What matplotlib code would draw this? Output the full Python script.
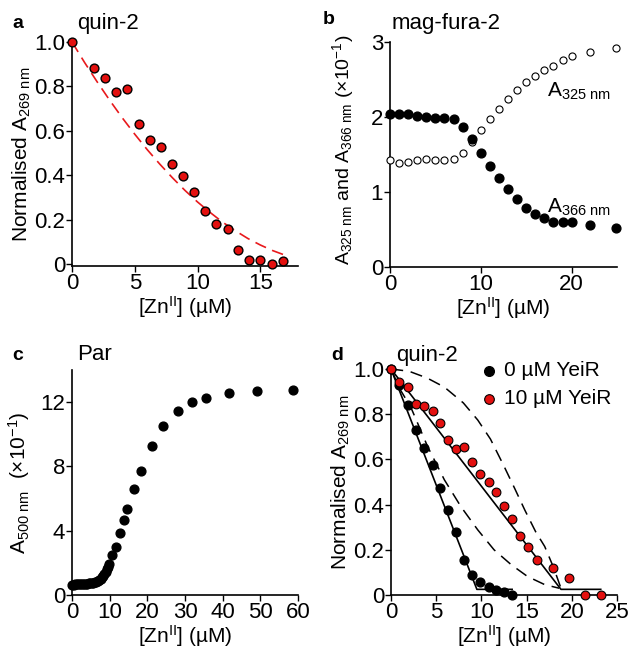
import matplotlib
matplotlib.use("Agg")
import matplotlib.pyplot as plt

plt.rcParams['font.family'] = ['Liberation Sans', 'DejaVu Sans']
plt.rcParams['mathtext.fontset'] = 'custom'
plt.rcParams['mathtext.rm'] = 'Liberation Sans'
plt.rcParams['mathtext.it'] = 'Liberation Sans:italic'
plt.rcParams['font.size'] = 12

# ---- Panel a: quin-2 ----
a_x = [0, 1.77, 2.65, 3.53, 4.41, 5.3, 6.18, 7.06, 7.94, 8.83, 9.71, 10.6, 11.5,
       12.4, 13.25, 14.1, 15.0, 15.9, 16.8]
a_y = [1.0, 0.885, 0.84, 0.776, 0.789, 0.631, 0.56, 0.528, 0.451, 0.395, 0.323,
       0.238, 0.179, 0.157, 0.064, 0.021, 0.018, 0.002, 0.015]
a_fit_x = [0, 1, 2, 3, 4, 5, 6, 7, 8, 9, 10, 11, 12, 13, 14, 15, 16, 17]
a_fit_y = [1.0, 0.908, 0.821, 0.738, 0.659, 0.585, 0.515, 0.450, 0.389, 0.332,
           0.280, 0.233, 0.189, 0.151, 0.116, 0.0865, 0.061, 0.04]

# ---- Panel b: mag-fura-2 ----
b_x = [0, 1, 2, 3, 4, 5, 6, 7, 8, 9, 10, 11, 12, 13, 14, 15, 16, 17, 18, 19, 20, 22, 24.9]
b_a366 = [2.036, 2.044, 2.036, 2.009, 1.996, 1.991, 1.982, 1.973, 1.867, 1.702, 1.524,
          1.342, 1.187, 1.036, 0.911, 0.782, 0.707, 0.649, 0.60, 0.60, 0.60, 0.556, 0.52]
b_a325 = [1.431, 1.387, 1.396, 1.422, 1.436, 1.431, 1.422, 1.436, 1.524, 1.667, 1.822,
          1.969, 2.107, 2.24, 2.364, 2.462, 2.551, 2.622, 2.68, 2.756, 2.813, 2.867, 2.92]

# ---- Panel c: Par ----
c_x = [0, 0.4, 0.8, 1.2, 1.6, 2.0, 2.4, 2.8, 3.2, 3.6, 4.0, 4.4, 4.8, 5.2, 5.6, 6.0,
       6.4, 6.8, 7.2, 7.6, 8.0, 8.3, 8.6, 8.9, 9.2, 9.5, 9.8,
       10.7, 11.7, 12.7, 13.7, 14.65, 16.4, 18.4, 21.3, 24.2, 28.1, 31.9, 35.7,
       41.6, 49.2, 58.8]
c_y = [0.65, 0.65, 0.66, 0.66, 0.66, 0.67, 0.67, 0.68, 0.69, 0.70, 0.71, 0.72, 0.73,
       0.75, 0.77, 0.79, 0.82, 0.86, 0.92, 1.0, 1.1, 1.2, 1.32, 1.45, 1.6, 1.75, 1.9,
       2.46, 3.0, 3.84, 4.65, 5.37, 6.57, 7.73, 9.26, 10.5, 11.43, 11.98, 12.27,
       12.54, 12.69, 12.73]

# ---- Panel d: quin-2 +/- YeiR ----
d0_x = [0, 0.92, 1.85, 2.77, 3.69, 4.61, 5.46, 6.31, 7.2, 8.08, 8.97, 9.89, 10.8,
        11.66, 12.55, 13.4]
d0_y = [1.0, 0.928, 0.84, 0.732, 0.651, 0.574, 0.472, 0.374, 0.278, 0.156, 0.088,
        0.057, 0.035, 0.024, 0.012, 0.0]
d10_x = [0, 0.92, 1.85, 2.77, 3.69, 4.61, 5.46, 6.31, 7.2, 8.08, 8.97, 9.89, 10.8,
         11.66, 12.55, 13.4, 14.3, 15.2, 16.1, 17.9, 19.7, 21.5, 23.2]
d10_y = [1.0, 0.943, 0.921, 0.844, 0.837, 0.813, 0.763, 0.685, 0.646, 0.656, 0.590,
         0.535, 0.501, 0.454, 0.396, 0.337, 0.263, 0.213, 0.156, 0.119, 0.075, 0.0, 0.0]
d_fit0_x = [0, 9.5, 13.4]
d_fit0_y = [1.0, 0.025, 0.025]
d_fit10_x = [0, 18.8, 23.2]
d_fit10_y = [1.0, 0.025, 0.025]
d_dash_hi_x = [0, 2, 4, 5.9, 8, 9.6, 11, 12.5, 13.7, 14.8, 16, 17, 18, 18.8]
d_dash_hi_y = [1.0, 0.99, 0.96, 0.92, 0.85, 0.774, 0.69, 0.57, 0.47, 0.376, 0.28,
               0.215, 0.12, 0.03]
d_dash_lo_x = [0, 1, 2.2, 4.06, 5.9, 7.75, 9.6, 11.4, 13.3, 15.1, 17, 18.6]
d_dash_lo_y = [1.0, 0.91, 0.83, 0.656, 0.51, 0.39, 0.288, 0.2, 0.134, 0.082, 0.046, 0.03]

W, H = 631, 648
fig = plt.figure(figsize=(W / 100, H / 100), dpi=100)

TICK = 16
LAB = 15
TIT = 16


def make_ax(l, r, t, b):
    ax = fig.add_axes([l / W, 1 - b / H, (r - l) / W, (b - t) / H])
    for s in ['top', 'right']:
        ax.spines[s].set_visible(False)
    ax.tick_params(direction='out', length=4, width=1, labelsize=TICK, pad=1)
    for s in ['left', 'bottom']:
        ax.spines[s].set_linewidth(1.2)
    return ax

xl = '[Zn$^{\\mathregular{II}}$] (µM)'

# a
ax = make_ax(72, 298, 42, 266)
ax.plot(a_fit_x, a_fit_y, color='#e8191c', ls=(0, (7, 4)), lw=1.2)
ax.scatter(a_x, a_y, s=40, color='#e3100f', edgecolor='black', lw=1, zorder=3, clip_on=False)
ax.set_xlim(0, 18)
ax.set_ylim(-0.008, 1.0)
ax.set_xticks([0, 5, 10, 15])
ax.set_yticks([0, 0.2, 0.4, 0.6, 0.8, 1.0])
ax.set_yticklabels(['0', '0.2', '0.4', '0.6', '0.8', '1.0'])
ax.set_xlabel(xl, fontsize=LAB, labelpad=0)
ax.set_ylabel('Normalised A$_{\\mathregular{269\\ nm}}$', fontsize=LAB, labelpad=1)
fig.text(12 / W, 1 - 23 / H, 'a', fontsize=14, fontweight='bold', va='center')
fig.text(77 / W, 1 - 24 / H, 'quin-2', fontsize=TIT, va='center')

# b
ax = make_ax(390, 617, 42, 267)
ax.scatter(b_x, b_a325, s=26, facecolor='white', edgecolor='black', lw=0.8, zorder=3, clip_on=False)
ax.scatter(b_x, b_a366, s=40, color='black', zorder=4, clip_on=False)
ax.set_xlim(0, 25)
ax.set_ylim(0, 3)
ax.set_xticks([0, 10, 20])
ax.set_yticks([0, 1, 2, 3])
ax.set_xlabel(xl, fontsize=LAB, labelpad=0)
ax.set_ylabel('A$_{\\mathregular{325\\ nm}}$ and A$_{\\mathregular{366\\ nm}}$ (×10$^{\\mathregular{-1}}$)',
              fontsize=14)
ax.yaxis.set_label_coords(-0.15, 0.52)
ax.text(547 / W, 1 - 91 / H, 'A$_{\\mathregular{325\\ nm}}$', transform=fig.transFigure,
        fontsize=LAB, va='center')
ax.text(547 / W, 1 - 207 / H, 'A$_{\\mathregular{366\\ nm}}$', transform=fig.transFigure,
        fontsize=LAB, va='center')
fig.text(323 / W, 1 - 20 / H, 'b', fontsize=14, fontweight='bold', va='center')
fig.text(392 / W, 1 - 24 / H, 'mag-fura-2', fontsize=TIT, va='center')

# c
ax = make_ax(72, 298, 370, 595)
ax.scatter(c_x, c_y, s=40, color='black', zorder=3, clip_on=False)
ax.set_xlim(0, 60)
ax.set_ylim(0, 14)
ax.set_xticks([0, 10, 20, 30, 40, 50, 60])
ax.set_yticks([0, 4, 8, 12])
ax.set_xlabel(xl, fontsize=LAB, labelpad=0)
ax.set_ylabel('A$_{\\mathregular{500\\ nm}}$  (×10$^{\\mathregular{-1}}$)', fontsize=LAB, labelpad=6)
fig.text(12 / W, 1 - 355 / H, 'c', fontsize=14, fontweight='bold', va='center')
fig.text(77 / W, 1 - 355 / H, 'Par', fontsize=TIT, va='center')

# d
ax = make_ax(391, 617, 369, 595)
ax.plot(d_dash_hi_x, d_dash_hi_y, color='black', ls=(0, (8, 5)), lw=1.1)
ax.plot(d_dash_lo_x, d_dash_lo_y, color='black', ls=(0, (8, 5)), lw=1.1)
ax.plot(d_fit0_x, d_fit0_y, color='black', lw=1.2)
ax.plot(d_fit10_x, d_fit10_y, color='black', lw=1.2)
ax.scatter(d0_x, d0_y, s=40, color='black', zorder=3, clip_on=False, label='0 µM YeiR')
ax.scatter(d10_x, d10_y, s=40, color='#e3100f', edgecolor='black', lw=0.8, zorder=4,
           clip_on=False, label='10 µM YeiR')
ax.set_xlim(0, 25)
ax.set_ylim(0, 1.0)
ax.set_xticks([0, 5, 10, 15, 20, 25])
ax.set_yticks([0, 0.2, 0.4, 0.6, 0.8, 1.0])
ax.set_yticklabels(['0', '0.2', '0.4', '0.6', '0.8', '1.0'])
ax.set_xlabel(xl, fontsize=LAB, labelpad=0)
ax.set_ylabel('Normalised A$_{\\mathregular{269\\ nm}}$', fontsize=LAB, labelpad=1)
leg = ax.legend(loc='upper left', bbox_to_anchor=((479 - 391) / 226, 1.035), frameon=False,
                fontsize=LAB, handletextpad=0.2, handlelength=1.0, borderaxespad=0, borderpad=0,
                labelspacing=0.45, markerscale=1.1)
fig.text(331 / W, 1 - 355 / H, 'd', fontsize=14, fontweight='bold', va='center')
fig.text(396 / W, 1 - 355 / H, 'quin-2', fontsize=TIT, va='center')

fig.savefig('out.png', dpi=100)
